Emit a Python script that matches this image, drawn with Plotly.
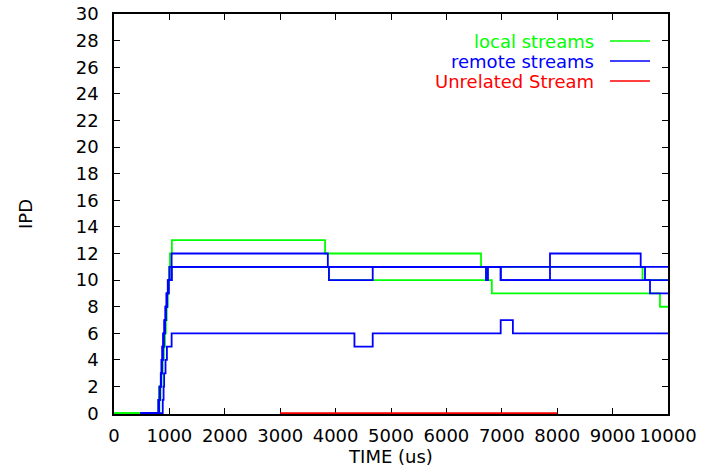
import plotly.graph_objects as go

# ---- data (time in us, IPD values) ----
local_a_t = [0, 820, 840, 860, 880, 900, 920, 935, 950, 965, 980, 995, 1010, 1045, 3810, 6625, 6740, 6820, 9855, 10000]
local_a_v = [0, 1, 2, 3, 4, 5, 6, 7, 8, 9, 10, 11, 12, 13, 12, 11, 10, 9, 8, 8]
local_b_t = [0, 800, 815, 845, 865, 885, 905, 925, 945, 965, 990, 1040, 3880, 6715, 9540, 10000]
local_b_v = [0, 1, 2, 3, 4, 5, 6, 7, 8, 9, 10, 11, 10, 11, 10, 10]

remote_1_t = [470, 800, 820, 845, 855, 870, 885, 905, 925, 945, 970, 1000, 1040, 3860, 6980, 7870, 9507, 9585, 10000]
remote_1_v = [0, 1, 2, 3, 4, 5, 6, 7, 8, 9, 10, 11, 12, 11, 10, 12, 11, 10, 10]
remote_2_t = [470, 810, 830, 850, 865, 880, 900, 920, 940, 960, 985, 1040, 3880, 4670, 6715, 6750, 10000]
remote_2_v = [0, 1, 2, 3, 4, 5, 6, 7, 8, 9, 10, 11, 10, 11, 10, 11, 11]
remote_3_t = [470, 810, 830, 850, 865, 880, 900, 920, 940, 960, 985, 1040, 6980, 9675, 10000]
remote_3_v = [0, 1, 2, 3, 4, 5, 6, 7, 8, 9, 10, 11, 10, 9, 9]
remote_4_t = [470, 880, 895, 905, 930, 955, 1040, 4340, 4670, 6980, 7200, 10000]
remote_4_v = [0, 1, 2, 3, 4, 5, 6, 5, 6, 7, 6, 6]

unrelated_t = [3000, 8000]
unrelated_v = [0, 0]

x_ticks = list(range(0, 10001, 1000))
y_ticks = list(range(0, 31, 2))

GREEN, BLUE, RED = "#00ff00", "#0000ff", "#ff0000"
FONT = "DejaVu Sans"

fig = go.Figure()
for t, v, c in [
    (local_a_t, local_a_v, GREEN), (local_b_t, local_b_v, GREEN),
    (remote_1_t, remote_1_v, BLUE), (remote_2_t, remote_2_v, BLUE),
    (remote_3_t, remote_3_v, BLUE), (remote_4_t, remote_4_v, BLUE),
    (unrelated_t, unrelated_v, RED),
]:
    fig.add_trace(go.Scatter(x=t, y=v, mode="lines", line=dict(color=c, width=1.8, shape="hv"),
                             showlegend=False, hoverinfo="skip"))

# gnuplot-style key: right-aligned text with line sample on the right
key = [("local streams", GREEN), ("remote streams", BLUE), ("Unrelated Stream", RED)]
L, R, T, B = 114, 668, 14, 414
W, H = R - L, B - T
for i, (name, c) in enumerate(key):
    py = 41 + 20 * i
    yp = (B - py) / H
    fig.add_annotation(text=name, x=(596 - L) / W, y=yp, xref="paper", yref="paper",
                       xanchor="right", yanchor="middle", showarrow=False,
                       font=dict(family=FONT, size=18, color=c))
    fig.add_shape(type="line", xref="paper", yref="paper", x0=(610 - L) / W, x1=(650 - L) / W,
                  y0=yp, y1=yp, line=dict(color=c, width=1.5))

axis_common = dict(showgrid=False, zeroline=False, showline=True, linecolor="black", linewidth=1.5,
                   mirror="ticks", ticks="inside", ticklen=6, tickcolor="black", tickwidth=1.2,
                   tickfont=dict(family=FONT, size=18, color="black"), layer="below traces",
                   automargin=False)
fig.update_xaxes(range=[0, 10000], tickvals=x_ticks, ticktext=[str(v) for v in x_ticks],
                 ticklabelstandoff=5,
                 title=dict(text="TIME (us)", font=dict(family=FONT, size=18, color="black"), standoff=0),
                 **axis_common)
fig.update_yaxes(range=[-0.06, 30], tickvals=y_ticks, ticktext=[str(v) for v in y_ticks],
                 ticklabelstandoff=10,
                 title=dict(text="IPD", font=dict(family=FONT, size=18, color="black"), standoff=38),
                 **axis_common)
fig.update_layout(width=719, height=469, margin=dict(l=L, r=719 - R, t=T, b=469 - B),
                  paper_bgcolor="white", plot_bgcolor="white", showlegend=False)
fig.write_html("out.html")
